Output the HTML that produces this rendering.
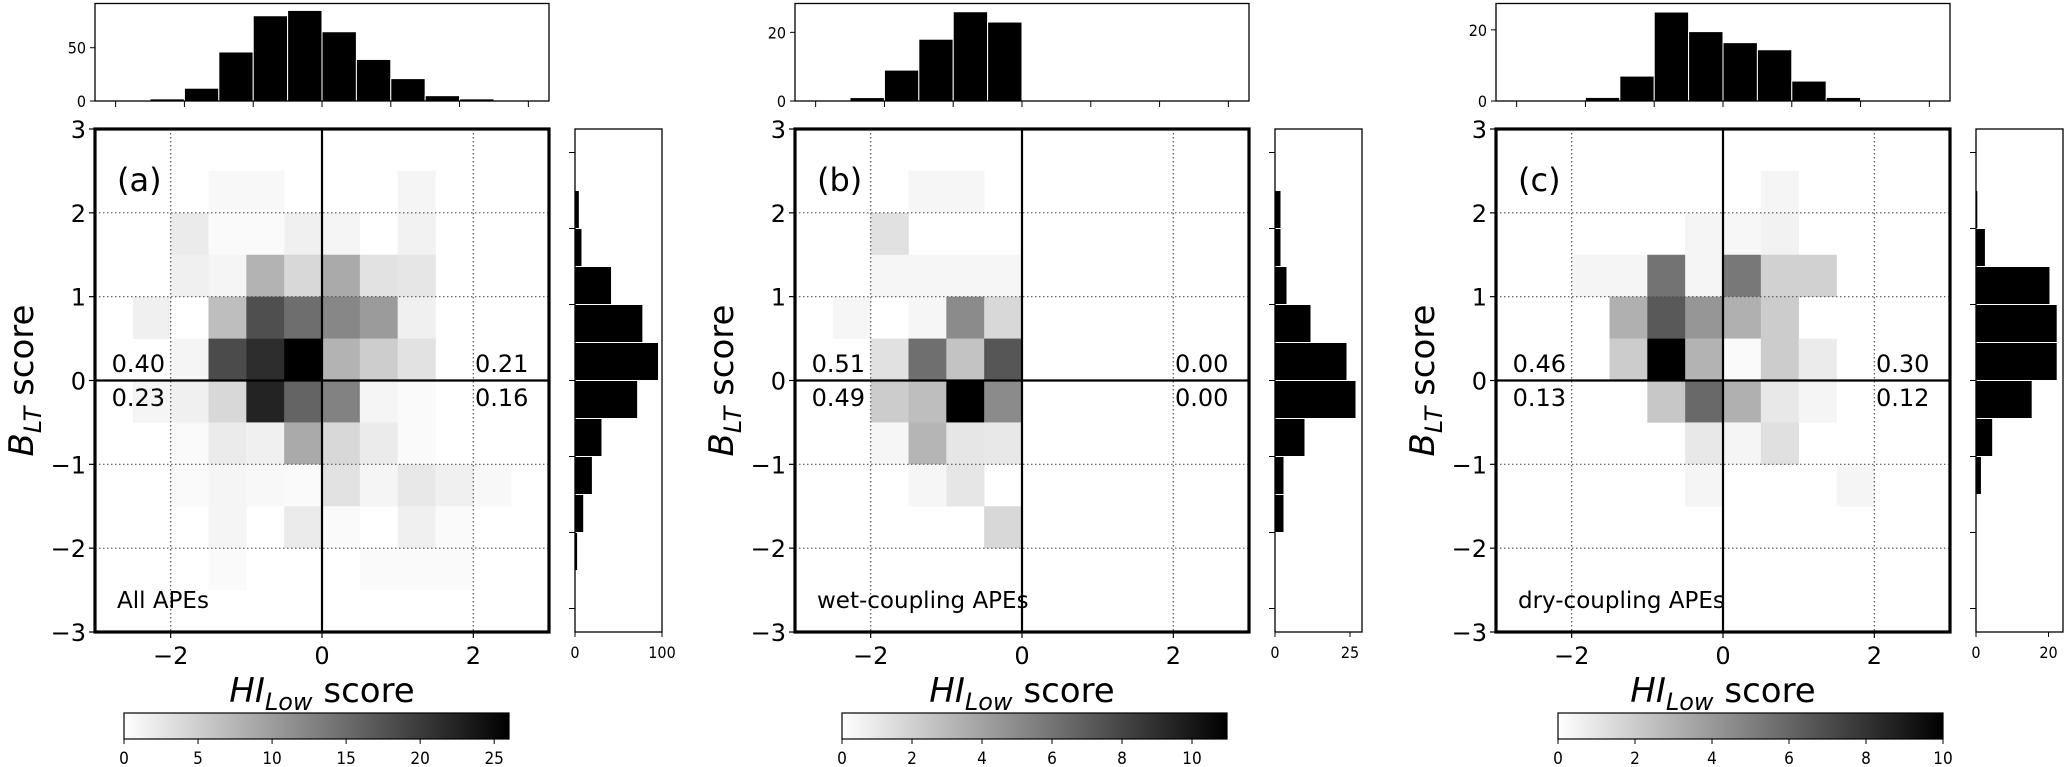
<!DOCTYPE html>
<html><head><meta charset="utf-8"><style>
html,body{margin:0;padding:0;background:#fff;}
svg{display:block;font-family:"DejaVu Sans","Liberation Sans",sans-serif;}
.cond{font-family:"DejaVu Sans Condensed","DejaVu Sans","Liberation Sans Narrow",sans-serif;}
</style></head><body>
<svg id="fig" width="2067" height="767" viewBox="0 0 2067 767" xmlns="http://www.w3.org/2000/svg">
<defs><linearGradient id="greys" x1="0" x2="1" y1="0" y2="0"><stop offset="0" stop-color="#fff"/><stop offset="1" stop-color="#000"/></linearGradient></defs>
</svg>
<script>
// ---- data ----
const panelLetters = ["(a)", "(b)", "(c)"];
const panelTitles = ["All APEs", "wet-coupling APEs", "dry-coupling APEs"];
const quadTL = ["0.40", "0.51", "0.46"];
const quadBL = ["0.23", "0.49", "0.13"];
const quadTR = ["0.21", "0.00", "0.30"];
const quadBR = ["0.16", "0.00", "0.12"];
const vmaxA = 26, vmaxB = 11, vmaxC = 10;
const cbTicksA = [0, 5, 10, 15, 20, 25];
const cbTicksB = [0, 2, 4, 6, 8, 10];
const cbTicksC = [0, 2, 4, 6, 8, 10];
// top histograms: 12 bins of width 0.5 from x=-3 to 3
const topHistA = [0, 2, 12, 46, 80, 85, 65, 39, 21, 5, 2, 0];
const topHistB = [0, 1, 9, 18, 26, 23, 0, 0, 0, 0, 0, 0];
const topHistC = [0, 0, 1, 7, 25, 19.5, 16.4, 14.4, 5.6, 1, 0, 0];
const topMaxA = 91.5, topMaxB = 28.4, topMaxC = 27.4;
const topTicksA = [0, 50], topTicksB = [0, 20], topTicksC = [0, 20];
// right histograms: 12 bins of width 0.5 from y=3 (top) down to -3
const rightHistA = [0, 5, 8, 42, 78, 96, 72, 31, 20, 10, 3, 0];
const rightHistB = [0, 2, 2, 4, 12, 24, 27, 10, 3, 3, 0, 0];
const rightHistC = [0, 0.5, 2.6, 20.4, 22.4, 22.4, 15.5, 4.6, 1.5, 0, 0, 0];
const rightMaxA = 100, rightMaxB = 29, rightMaxC = 24;
const rightTicksA = [0, 100], rightTicksB = [0, 25], rightTicksC = [0, 20];
// heatmaps: rows from y=3 (top) to -3, columns from x=-3 to 3
const heatA = [
 [0,0,0,0,0,0,0,0,0,0,0,0],
 [0,0,0,0.7,0.7,0,0,0,1,0,0,0],
 [0,0,2,0.5,0.5,1.5,1,0,1.3,0,0,0],
 [0,0,1.5,1,7.7,4,8.7,3,2.5,0,0,0],
 [0,1.5,0,6.6,17.9,14.8,12.2,10.2,1.5,0,0,0],
 [0,0,1,18.4,21.4,26,7.7,5.1,3,0,0,0],
 [0,1,1.5,4,22.4,15.8,12.7,1,0.5,0,0,0],
 [0,0,0.5,2,1.5,8.7,4,2,0.5,0,0,0],
 [0,0,0.5,1,0.7,0.5,3,1,2.3,1.5,0.7,0],
 [0,0,0,1,0,2,0.5,0,1.5,0.5,0,0],
 [0,0,0,0.5,0,0,0,0.5,0.5,0.5,0,0],
 [0,0,0,0,0,0,0,0,0,0,0,0]
];
const heatB = [
 [0,0,0,0,0,0,0,0,0,0,0,0],
 [0,0,0,0.4,0.4,0,0,0,0,0,0,0],
 [0,0,1.3,0,0,0,0,0,0,0,0,0],
 [0,0,0.4,0.4,0.4,0.4,0,0,0,0,0,0],
 [0,0.4,0,0.4,5,1.7,0,0,0,0,0,0],
 [0,0,1.3,6.2,2.6,7.3,0,0,0,0,0,0],
 [0,0,2.2,2.8,11,5,0,0,0,0,0,0],
 [0,0,0.4,3.2,1.1,1,0,0,0,0,0,0],
 [0,0,0,0.4,1.1,0,0,0,0,0,0,0],
 [0,0,0,0,0,1.7,0,0,0,0,0,0],
 [0,0,0,0,0,0,0,0,0,0,0,0],
 [0,0,0,0,0,0,0,0,0,0,0,0]
];
const heatC = [
 [0,0,0,0,0,0,0,0,0,0,0,0],
 [0,0,0,0,0,0,0,0.4,0,0,0,0],
 [0,0,0,0,0,0.4,0.3,0.5,0,0,0,0],
 [0,0,0.4,0.4,5.5,0.4,5.3,1.8,1.8,0,0,0],
 [0,0,0,3.1,6.5,4.1,3.1,2,0,0,0,0],
 [0,0,0,2,10,3,0.2,2,0.8,0,0,0],
 [0,0,0,0,2.2,5.9,3.1,0.9,0.4,0,0,0],
 [0,0,0,0,0,0.9,0.4,1.2,0,0,0,0],
 [0,0,0,0,0,0.4,0,0,0,0.4,0,0],
 [0,0,0,0,0,0,0,0,0,0,0,0],
 [0,0,0,0,0,0,0,0,0,0,0,0],
 [0,0,0,0,0,0,0,0,0,0,0,0]
];
const mainXTicks = [-2, 0, 2];
const mainYTicks = [3, 2, 1, 0, -1, -2, -3];
const histTicks = [-3, -2, -1, 0, 1, 2, 3];

// ---- layout ----
const NS = "http://www.w3.org/2000/svg";
const svg = document.getElementById("fig");
function mk(tag, attrs, parent, text) {
  const e = document.createElementNS(NS, tag);
  for (const k in attrs) e.setAttribute(k, attrs[k]);
  if (text !== undefined) e.textContent = text;
  (parent || svg).appendChild(e);
  return e;
}
const panelLefts = [95, 795, 1496];
const cbLefts = [124, 842, 1558];
const MW = 454, MT = 129, MB = 632, Y0 = 380.5;
const panels = [
  {heat: heatA, vmax: vmaxA, cb: cbTicksA, top: topHistA, topMax: topMaxA, topTicks: topTicksA, right: rightHistA, rightMax: rightMaxA, rightTicks: rightTicksA},
  {heat: heatB, vmax: vmaxB, cb: cbTicksB, top: topHistB, topMax: topMaxB, topTicks: topTicksB, right: rightHistB, rightMax: rightMaxB, rightTicks: rightTicksB},
  {heat: heatC, vmax: vmaxC, cb: cbTicksC, top: topHistC, topMax: topMaxC, topTicks: topTicksC, right: rightHistC, rightMax: rightMaxC, rightTicks: rightTicksC}
];
function fmt(v) { return v < 0 ? "\u2212" + Math.abs(v) : String(v); }

panels.forEach((P, pi) => {
  const L = panelLefts[pi];
  const g = mk("g", {});
  
  
  const xs = v => L + (v + 3) / 6 * MW;
  const ys = v => Y0 - v * (MB - MT) / 6;
  const hg = mk("g", {}, g);
  
  
  P.heat.forEach((row, r) => row.forEach((v, c) => {
    if (v <= 0) return;
    const t = Math.min(1, v / P.vmax);
    const gr = Math.round(255 * (1 - t));
    const x0 = xs(-3 + 0.5 * c), x1 = xs(-3 + 0.5 * (c + 1));
    const y0 = ys(3 - 0.5 * r), y1 = ys(3 - 0.5 * (r + 1));
    const cell = mk("rect", {x: x0, y: y0, width: x1 - x0 + 0.3, height: y1 - y0 + 0.3, fill: `rgb(${gr},${gr},${gr})`}, hg);
    
    
  }));
  [-2, 2].forEach(v => mk("line", {x1: xs(v), x2: xs(v), y1: MT, y2: MB, stroke: "#555", "stroke-width": 1.2, "stroke-dasharray": "1.5,2.5"}, g));
  [-2, -1, 1, 2].forEach(v => mk("line", {x1: L, x2: L + MW, y1: ys(v), y2: ys(v), stroke: "#555", "stroke-width": 1.2, "stroke-dasharray": "1.5,2.5"}, g));
  mk("line", {x1: xs(0), x2: xs(0), y1: MT, y2: MB, stroke: "#000", "stroke-width": 2.2}, g);
  mk("line", {x1: L, x2: L + MW, y1: ys(0), y2: ys(0), stroke: "#000", "stroke-width": 2.2}, g);
  const fr = mk("rect", {x: L, y: MT, width: MW, height: MB - MT, fill: "none", stroke: "#000", "stroke-width": 3.2}, g);
  
  
  mainXTicks.forEach(v => {
    mk("line", {x1: xs(v), x2: xs(v), y1: MB, y2: MB + 6, stroke: "#000", "stroke-width": 1.2}, g);
    const t = mk("text", {x: xs(v), y: 664, "font-size": 24, "text-anchor": "middle"}, g, fmt(v));
    
    
  });
  mainYTicks.forEach(v => {
    mk("line", {x1: L - 6, x2: L, y1: ys(v), y2: ys(v), stroke: "#000", "stroke-width": 1.2}, g);
    const t = mk("text", {x: L - 9, y: ys(v) + 9, "font-size": 24, "text-anchor": "end"}, g, fmt(v));
    
    
  });
  const xl = mk("text", {x: L + MW / 2, y: 702, "font-size": 34, "text-anchor": "middle"}, g);
  
  
  mk("tspan", {"font-style": "italic"}, xl, "HI");
  mk("tspan", {"font-style": "italic", "font-size": 24, dy: 8}, xl, "Low");
  mk("tspan", {dy: -8}, xl, " score");
  const yl = mk("text", {x: 0, y: 0, "font-size": 34, "text-anchor": "middle", transform: `translate(${L - 62},${Y0}) rotate(-90)`}, g);
  
  
  mk("tspan", {"font-style": "italic"}, yl, "B");
  mk("tspan", {"font-style": "italic", "font-size": 24, dy: 8}, yl, "LT");
  mk("tspan", {dy: -8}, yl, " score");
  const pl = mk("text", {x: L + 22, y: 191, "font-size": 32}, g, panelLetters[pi]);
  
  
  const pt = mk("text", {x: L + 22, y: 608, "font-size": 23}, g, panelTitles[pi]);
  
  
  [[quadTL[pi], L + 70, 372, "end"], [quadBL[pi], L + 70, 406, "end"], [quadTR[pi], L + 380, 372, "start"], [quadBR[pi], L + 380, 406, "start"]].forEach(q => {
    const t = mk("text", {x: q[1], y: q[2], "font-size": 24, "text-anchor": q[3]}, g, q[0]);
    
    
  });
  const TT = 3.5, TB = 101;
  const tx = v => L + MW / 2 + v * (MW / 6.6);
  const ty = v => TB - v / P.topMax * (TB - TT);
  const tg = mk("g", {}, g);
  
  
  P.top.forEach((v, i) => {
    if (v <= 0) return;
    const x0 = tx(-3 + 0.5 * i), x1 = tx(-3 + 0.5 * (i + 1));
    const b = mk("rect", {x: x0, y: ty(v), width: x1 - x0, height: TB - ty(v), fill: "#000", stroke: "#fff", "stroke-width": 1}, tg);
    
    
  });
  mk("rect", {x: L, y: TT, width: MW, height: TB - TT, fill: "none", stroke: "#000", "stroke-width": 1.3}, tg);
  histTicks.forEach(v => mk("line", {x1: tx(v), x2: tx(v), y1: TB, y2: TB + 6, stroke: "#000", "stroke-width": 1}, tg));
  P.topTicks.forEach(v => {
    mk("line", {x1: L - 5, x2: L, y1: ty(v), y2: ty(v), stroke: "#000", "stroke-width": 1}, tg);
    const t = mk("text", {x: L - 9, y: ty(v) + 6, "font-size": 16, "text-anchor": "end", class: "cond"}, tg, String(v));
    
    
  });
  const RL = L + 480, RW = 87;
  const rx = v => RL + v / P.rightMax * RW;
  const ry = v => Y0 - v * 76;
  const rg = mk("g", {}, g);
  
  
  P.right.forEach((v, i) => {
    if (v <= 0) return;
    const y0 = ry(3 - 0.5 * i), y1 = ry(3 - 0.5 * (i + 1));
    const b = mk("rect", {x: RL, y: y0, width: rx(v) - RL, height: y1 - y0, fill: "#000", stroke: "#fff", "stroke-width": 1}, rg);
    
    
  });
  mk("rect", {x: RL, y: MT, width: RW, height: MB - MT, fill: "none", stroke: "#000", "stroke-width": 1.3}, rg);
  histTicks.forEach(v => mk("line", {x1: RL - 6, x2: RL, y1: ry(v), y2: ry(v), stroke: "#000", "stroke-width": 1}, rg));
  P.rightTicks.forEach(v => {
    mk("line", {x1: rx(v), x2: rx(v), y1: MB, y2: MB + 5, stroke: "#000", "stroke-width": 1}, rg);
    const t = mk("text", {x: rx(v), y: 658, "font-size": 16, "text-anchor": "middle", class: "cond"}, rg, String(v));
    
    
  });
  const CL = cbLefts[pi], CW = 385, CT = 713, CB = 739;
  const cg = mk("g", {}, g);
  
  
  mk("rect", {x: CL, y: CT, width: CW, height: CB - CT, fill: "url(#greys)", stroke: "#000", "stroke-width": 1.2}, cg);
  P.cb.forEach(v => {
    const x = CL + v / P.vmax * CW;
    mk("line", {x1: x, x2: x, y1: CB, y2: CB + 5, stroke: "#000", "stroke-width": 1}, cg);
    const t = mk("text", {x: x, y: 764, "font-size": 17, "text-anchor": "middle", class: "cond"}, cg, String(v));
    
    
  });
});
</script>
</body></html>
